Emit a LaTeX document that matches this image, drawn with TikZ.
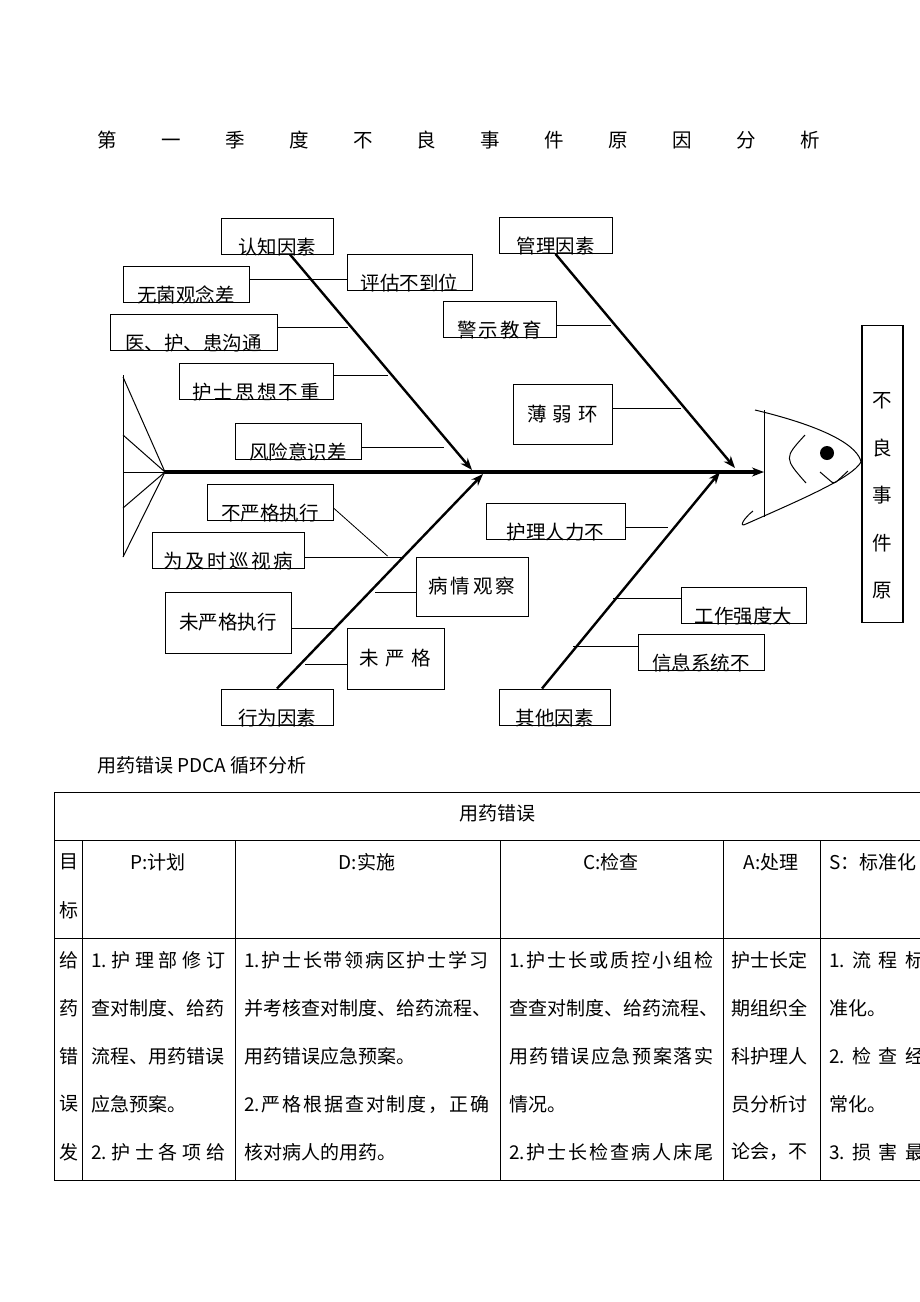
\documentclass[tikz,border=0pt]{standalone}
\usepackage{fontspec}
\setmainfont{Noto Sans CJK SC}
\usetikzlibrary{arrows.meta}
\newcommand\fsbox{\fontsize{19.5pt}{19.5pt}\selectfont}
\newcommand\fstab{\fontsize{19pt}{19pt}\selectfont}
\newcommand\fsfx{\fontsize{19.5pt}{47.5pt}\selectfont}
% spread a row of characters over a given width
\newcommand\spread[2]{\makebox[#1][s]{\spreadnext#2\relax}}
\def\spreadnext#1{\ifx\relax#1\unskip\else#1\hfil\expandafter\spreadnext\fi}
\tikzset{
    every node/.style={inner sep=0pt},
    cause/.style={draw, line width=1pt, font=\fsbox, text height=36pt, text depth=0pt},
    bigcause/.style={draw, line width=1pt, font=\fsbox},
    effect/.style={draw, line width=1.1pt, font=\fsfx, align=center, minimum width=41pt},
    bone/.style={->, line width=2.4pt},
    spine/.style={->, line width=3.4pt},
    twig/.style={line width=0.8pt},
    tabline/.style={line width=1pt},
    cell/.style={font=\fstab, anchor=west},
    head/.style={font=\fstab},
    >={Stealth[length=12pt,width=9pt]}
}
\begin{document}
\begin{tikzpicture}[x=1pt,y=-1pt]
\useasboundingbox (0,0) rectangle (920,1302);
\clip (0,0) rectangle (920,1302);

\node[font=\fsbox, anchor=west] at (97,140) (title) {\spread{723pt}{第一季度不良事件原因分析}};

% fish: spine, tail, head
\coordinate (t0) at (165,472);
\coordinate (hd) at (764,472);
\coordinate (j1) at (472,470);
\coordinate (j2) at (735,468);
\coordinate (j3) at (483,474);
\coordinate (j4) at (720,472);

\draw[line width=1pt] (123,375) -- (123,557);
\foreach \y in {377,435,472,508,557}
    \draw[line width=1pt] (t0) -- (123,\y);
\draw[spine] (t0) -- (hd);

\draw[line width=1pt] (764,410) -- (764,517);
\draw[line width=1pt] (755,410) .. controls (830,428) and (858,447) .. (861,462)
    .. controls (852,478) and (800,500) .. (746,524)
    .. controls (738,528) and (744,518) .. (753,511);
\fill (827,453) circle (7pt);
\draw[line width=1pt] (805,435) .. controls (784,458) .. (806,483);
\draw[line width=1pt, rounded corners=3pt] (820,472) -- (834,484) -- (848,471);

\node[effect, anchor=north, text height=272pt, text depth=25pt] at (882.5,325) (fx0) {不\\良\\事\\件\\原};

% upper left
\node[cause, minimum width=112pt] at (277,236) (rz) {认知因素};
\node[cause, minimum width=125pt] at (409.5,272.5) (pg) {评估不到位};
\node[cause, minimum width=126pt] at (186,284) (wj) {无菌观念差};
\node[cause, minimum width=167pt] at (193.5,332.5) (gt) {医、护、患沟通};
\node[cause, minimum width=154pt] at (256,381) (sx) {\spread{128pt}{护士思想不重}};
\node[cause, minimum width=126pt] at (298,441.5) (fx) {风险意识差};

% upper right
\node[cause, minimum width=113pt] at (555.5,235.5) (gl) {管理因素};
\node[cause, minimum width=113pt] at (499.5,319) (jy) {\spread{85pt}{警示教育}};
\node[bigcause, minimum width=99pt, minimum height=60pt] at (562.5,414) (bh) {\spread{71pt}{薄弱环}};

% lower left
\node[cause, minimum width=126pt] at (270,502) (bz) {不严格执行};
\node[cause, minimum width=152pt] at (228,550) (xs) {\spread{130pt}{为及时巡视病}};
\node[bigcause, minimum width=112pt, minimum height=59pt] at (472,586.5) (bq) {\spread{87pt}{病情观察}};
\node[bigcause, minimum width=126pt, minimum height=61pt] at (228,622.5) (wz) {未严格执行};
\node[bigcause, minimum width=97pt, minimum height=61pt] at (395.5,658.5) (wy) {\spread{72pt}{未严格}};
\node[cause, minimum width=112pt] at (277,707) (xw) {行为因素};

% lower right
\node[cause, minimum width=139pt] at (555.5,521) (hl) {护理人力不};
\node[cause, minimum width=125pt] at (743.5,605) (gz) {工作强度大};
\node[cause, minimum width=126pt] at (701,652.5) (xx) {信息系统不};
\node[cause, minimum width=111pt] at (554.5,707) (qt) {其他因素};

\draw[bone] ([xshift=13pt]rz.south) -- (j1);
\draw[bone] (gl.south) -- (j2);
\draw[bone] (xw.north) -- (j3);
\draw[bone] ([xshift=-12.5pt]qt.north) -- (j4);

\draw[twig] ([yshift=5pt]wj.east) -- ([yshift=-6.5pt]pg.west);
\draw[twig] ([yshift=5.5pt]gt.east) -- ++(70,0);
\draw[twig] ([yshift=6pt]sx.east) -- ++(54,0);
\draw[twig] ([yshift=-5.5pt]fx.east) -- ++(82,0);
\draw[twig] ([yshift=-6pt]jy.east) -- ++(54,0);
\draw[twig] ([yshift=6pt]bh.east) -- ++(68,0);
\draw[twig] ([yshift=-6pt]bz.east) -- ++(54,48);
\draw[twig] ([yshift=-7pt]xs.east) -- ++(98,0);
\draw[twig] ([yshift=-5.5pt]bq.west) -- ++(-41,0);
\draw[twig] ([yshift=-5.5pt]wz.east) -- ++(42,0);
\draw[twig] ([yshift=-5.5pt]wy.west) -- ++(-42,0);
\draw[twig] ([yshift=-6pt]hl.east) -- ++(42,0);
\draw[twig] ([yshift=7pt]gz.west) -- ++(-68,0);
\draw[twig] ([yshift=6.5pt]xx.west) -- ++(-65,0);

% PDCA table
\node[cell] at (97,765) (cap) {用药错误 PDCA 循环分析};

\draw[tabline] (930,792) -- (54,792) -- (54,1180) -- (930,1180);
\draw[tabline] (54,840) -- (930,840);
\draw[tabline] (54,938) -- (930,938);
\foreach \x in {82,235,500,723,820}
    \draw[tabline] (\x,840) -- (\x,1180);

\node[head] at (497,813) (ttl) {用药错误};
\node[head] at (69,862) (mb1) {目};
\node[head] at (69,910) (mb2) {标};
\node[head] at (158,862) (hp) {P:计划};
\node[head] at (367,862) (hd2) {D:实施};
\node[head] at (611,862) (hc) {C:检查};
\node[head] at (771,862) (ha) {A:处理};
\node[cell] at (829,862) (hs) {S：标准化};

\node[head] at (69,960) (g1) {给};
\node[head] at (69,1008) (g2) {药};
\node[head] at (69,1056) (g3) {错};
\node[head] at (69,1104) (g4) {误};
\node[head] at (69,1152) (g5) {发};

\node[cell] at (91,960) (p1) {\spread{134pt}{{1.}护理部修订}};
\node[cell] at (91,1008) (p2) {查对制度、给药};
\node[cell] at (91,1056) (p3) {流程、用药错误};
\node[cell] at (91,1104) (p4) {应急预案。};
\node[cell] at (91,1152) (p5) {\spread{134pt}{{2.}护士各项给}};

\node[cell] at (244,960) (d1) {\spread{244pt}{{1.}护士长带领病区护士学习}};
\node[cell] at (244,1008) (d2) {并考核查对制度、给药流程、};
\node[cell] at (244,1056) (d3) {用药错误应急预案。};
\node[cell] at (244,1104) (d4) {\spread{245pt}{{2.}严格根据查对制度，正确}};
\node[cell] at (244,1152) (d5) {核对病人的用药。};

\node[cell] at (509,960) (c1) {\spread{204pt}{{1.}护士长或质控小组检}};
\node[cell] at (509,1008) (c2) {查查对制度、给药流程、};
\node[cell] at (509,1056) (c3) {\spread{204pt}{用药错误应急预案落实}};
\node[cell] at (509,1104) (c4) {情况。};
\node[cell] at (509,1152) (c5) {\spread{204pt}{{2.}护士长检查病人床尾}};

\node[cell] at (731,960) (a1) {护士长定};
\node[cell] at (731,1008) (a2) {期组织全};
\node[cell] at (731,1056) (a3) {科护理人};
\node[cell] at (731,1104) (a4) {员分析讨};
\node[cell] at (731,1152) (a5) {论会，不};

\node[cell] at (829,960) (s1) {\spread{95pt}{{1.}流程标}};
\node[cell] at (829,1008) (s2) {准化。};
\node[cell] at (829,1056) (s3) {\spread{95pt}{{2.}检查经}};
\node[cell] at (829,1104) (s4) {常化。};
\node[cell] at (829,1152) (s5) {\spread{95pt}{{3.}损害最}};
\end{tikzpicture}
\end{document}
